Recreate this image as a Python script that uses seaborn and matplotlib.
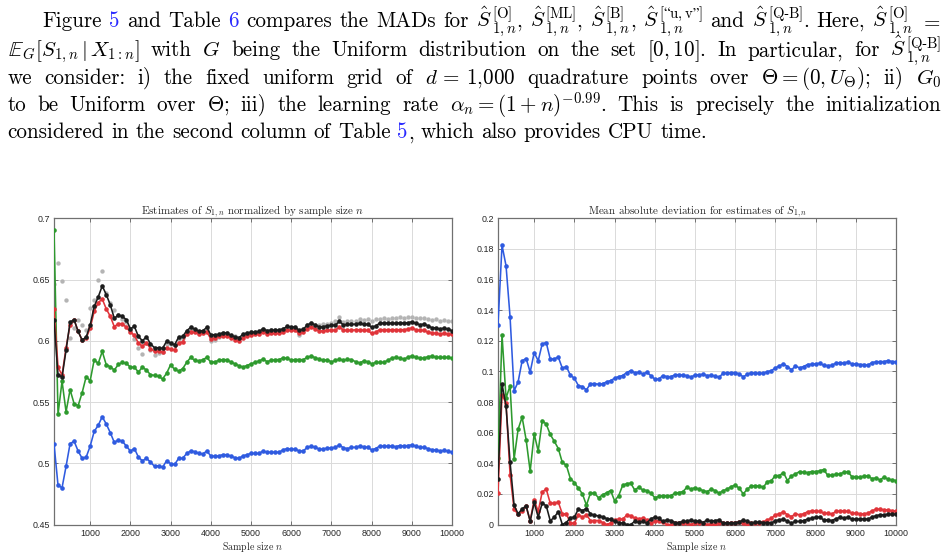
import matplotlib
matplotlib.use("Agg")
import matplotlib.pyplot as plt
import seaborn as sns
import numpy as np

# sample sizes on the x axis
sample_size = list(range(100, 10001, 100))

# left panel: estimates of S_{1,n} normalized by n
left_grey = [0.646, 0.6638, 0.649, 0.633, 0.6025, 0.6108, 0.6166, 0.6125, 0.6085, 0.6268,
             0.633, 0.6495, 0.6568, 0.6394, 0.631, 0.6255, 0.621, 0.618, 0.6155, 0.6085,
             0.6016, 0.594, 0.5894, 0.598, 0.5927, 0.5883, 0.590, 0.5905, 0.597, 0.597,
             0.5965, 0.6015, 0.6025, 0.607, 0.610, 0.6085, 0.607, 0.607, 0.6095, 0.600,
             0.6005, 0.603, 0.606, 0.606, 0.604, 0.6035, 0.6025, 0.605, 0.6065, 0.607,
             0.607, 0.607, 0.6095, 0.608, 0.6085, 0.6085, 0.6085, 0.6095, 0.611, 0.6105,
             0.6105, 0.605, 0.609, 0.6125, 0.6145, 0.613, 0.6125, 0.6135, 0.614, 0.6145,
             0.616, 0.6193, 0.6155, 0.616, 0.6165, 0.616, 0.6175, 0.617, 0.6175, 0.6165,
             0.6175, 0.618, 0.6185, 0.618, 0.6185, 0.619, 0.6195, 0.619, 0.6195, 0.6198,
             0.619, 0.6185, 0.6185, 0.618, 0.617, 0.6175, 0.6165, 0.617, 0.616, 0.6158]
left_blue = [0.516, 0.482, 0.480, 0.4975, 0.516, 0.518, 0.510, 0.504, 0.505, 0.514,
             0.526, 0.531, 0.538, 0.532, 0.525, 0.517, 0.519, 0.518, 0.514, 0.510,
             0.512, 0.505, 0.502, 0.504, 0.501, 0.4975, 0.498, 0.4967, 0.502, 0.4997,
             0.499, 0.504, 0.504, 0.508, 0.510, 0.5095, 0.508, 0.5075, 0.510, 0.506,
             0.5057, 0.506, 0.507, 0.507, 0.5057, 0.5046, 0.504, 0.506, 0.507, 0.508,
             0.508, 0.508, 0.510, 0.509, 0.509, 0.509, 0.509, 0.511, 0.512, 0.5115,
             0.5115, 0.510, 0.510, 0.513, 0.514, 0.513, 0.5115, 0.5115, 0.5125, 0.5125,
             0.513, 0.515, 0.5125, 0.512, 0.513, 0.513, 0.514, 0.5135, 0.513, 0.511,
             0.512, 0.514, 0.514, 0.514, 0.514, 0.5135, 0.5145, 0.514, 0.5145, 0.515,
             0.514, 0.513, 0.513, 0.512, 0.511, 0.511, 0.510, 0.5105, 0.510, 0.509]
left_green = [0.6905, 0.540, 0.567, 0.542, 0.560, 0.5487, 0.547, 0.5576, 0.5707, 0.5674,
              0.5845, 0.5815, 0.5913, 0.5804, 0.5788, 0.576, 0.5807, 0.5823, 0.5815, 0.5785,
              0.5783, 0.5745, 0.5785, 0.576, 0.5723, 0.5717, 0.571, 0.5688, 0.5734, 0.5804,
              0.5766, 0.5753, 0.5772, 0.5823, 0.5864, 0.584, 0.5836, 0.5845, 0.5864, 0.5826,
              0.5828, 0.584, 0.5847, 0.5845, 0.5826, 0.5812, 0.5796, 0.5785, 0.5798, 0.5812,
              0.5823, 0.5836, 0.585, 0.583, 0.584, 0.5845, 0.5847, 0.5861, 0.5856, 0.5842,
              0.5847, 0.5847, 0.5845, 0.5866, 0.5875, 0.5861, 0.585, 0.584, 0.5845, 0.5828,
              0.584, 0.585, 0.584, 0.585, 0.5845, 0.583, 0.582, 0.5834, 0.583, 0.5812,
              0.5823, 0.5823, 0.5823, 0.584, 0.5858, 0.5866, 0.5858, 0.585, 0.5864, 0.5877,
              0.5866, 0.5858, 0.5858, 0.587, 0.5875, 0.5866, 0.5864, 0.5864, 0.5864, 0.586]
left_red = [0.6262, 0.5785, 0.572, 0.5943, 0.613, 0.617, 0.608, 0.6005, 0.602, 0.6104,
            0.624, 0.6311, 0.6341, 0.626, 0.620, 0.6115, 0.614, 0.614, 0.611, 0.607,
            0.6045, 0.598, 0.5955, 0.5985, 0.5935, 0.5915, 0.5915, 0.5905, 0.5945, 0.593,
            0.5925, 0.5985, 0.599, 0.6055, 0.6075, 0.607, 0.6055, 0.6065, 0.6075, 0.6015,
            0.6025, 0.6035, 0.604, 0.6035, 0.6025, 0.601, 0.5995, 0.6025, 0.604, 0.605,
            0.6055, 0.6055, 0.607, 0.6055, 0.606, 0.606, 0.606, 0.607, 0.6085, 0.6085,
            0.6085, 0.606, 0.607, 0.610, 0.6115, 0.6095, 0.608, 0.608, 0.6085, 0.6085,
            0.6085, 0.6115, 0.6085, 0.6085, 0.6085, 0.609, 0.609, 0.6085, 0.6085, 0.606,
            0.607, 0.609, 0.609, 0.609, 0.609, 0.609, 0.609, 0.609, 0.6095, 0.6105,
            0.609, 0.6085, 0.6085, 0.607, 0.6065, 0.606, 0.6055, 0.606, 0.6055, 0.6055]
left_black = [0.6172, 0.5722, 0.5703, 0.5924, 0.6153, 0.6172, 0.6076, 0.6005, 0.603, 0.6128,
              0.628, 0.6358, 0.6448, 0.6377, 0.6294, 0.6183, 0.621, 0.6199, 0.6172, 0.6098,
              0.6117, 0.6035, 0.600, 0.6033, 0.5975, 0.5943, 0.5943, 0.5937, 0.5997, 0.5981,
              0.5967, 0.603, 0.6035, 0.6082, 0.6109, 0.6095, 0.6079, 0.6082, 0.6109, 0.6049,
              0.6049, 0.6052, 0.6065, 0.6063, 0.6044, 0.6033, 0.6025, 0.6052, 0.6063, 0.6068,
              0.6071, 0.6076, 0.6098, 0.6082, 0.6087, 0.6085, 0.6087, 0.6098, 0.6117, 0.6112,
              0.6112, 0.6085, 0.6095, 0.6128, 0.6144, 0.6128, 0.6112, 0.6114, 0.6123, 0.6125,
              0.6128, 0.6158, 0.6128, 0.6134, 0.6134, 0.6136, 0.6142, 0.6134, 0.6134, 0.6112,
              0.612, 0.6144, 0.6144, 0.6144, 0.6144, 0.6142, 0.6147, 0.6144, 0.6147, 0.6155,
              0.6142, 0.6131, 0.6136, 0.6123, 0.6106, 0.6106, 0.6095, 0.6104, 0.6095, 0.6082]

# right panel: mean absolute deviation
right_blue = [0.1306, 0.1824, 0.169, 0.1356, 0.0873, 0.0931, 0.1069, 0.1084, 0.0995, 0.1123,
              0.1069, 0.118, 0.1188, 0.108, 0.1082, 0.1093, 0.1021, 0.1032, 0.0975, 0.0955,
              0.0907, 0.0901, 0.0879, 0.092, 0.092, 0.0916, 0.092, 0.0931, 0.094, 0.0955,
              0.0966, 0.0973, 0.0992, 0.1005, 0.0992, 0.0994, 0.0984, 0.0994, 0.0973, 0.0949,
              0.0949, 0.0973, 0.0966, 0.0966, 0.0977, 0.0979, 0.0975, 0.0973, 0.0962, 0.0977,
              0.0977, 0.0981, 0.0973, 0.0975, 0.097, 0.0962, 0.0988, 0.099, 0.0992, 0.0992,
              0.0984, 0.0964, 0.0981, 0.0992, 0.0988, 0.0988, 0.0988, 0.0999, 0.1005, 0.1023,
              0.1036, 0.1049, 0.1032, 0.101, 0.1036, 0.1023, 0.1032, 0.1045, 0.1047, 0.1049,
              0.1053, 0.104, 0.1038, 0.104, 0.1053, 0.1058, 0.1053, 0.1062, 0.1049, 0.1049,
              0.1045, 0.1045, 0.104, 0.1058, 0.1062, 0.1064, 0.1064, 0.1071, 0.1064, 0.1064]
right_green = [0.0437, 0.1238, 0.0825, 0.0907, 0.0427, 0.0622, 0.0701, 0.0553, 0.0348, 0.0592,
               0.0479, 0.0679, 0.0655, 0.0588, 0.0544, 0.0496, 0.0405, 0.0387, 0.030, 0.0274,
               0.0237, 0.020, 0.0126, 0.0205, 0.0205, 0.0174, 0.0194, 0.0207, 0.0222, 0.0155,
               0.0187, 0.0255, 0.0267, 0.027, 0.0226, 0.0243, 0.0226, 0.0222, 0.0204, 0.0176,
               0.0183, 0.0189, 0.0187, 0.0189, 0.0204, 0.0209, 0.0215, 0.0243, 0.023, 0.0241,
               0.023, 0.0222, 0.0215, 0.023, 0.0222, 0.0204, 0.0222, 0.023, 0.0248, 0.0257,
               0.0237, 0.020, 0.023, 0.0252, 0.0252, 0.0252, 0.0243, 0.028, 0.0287, 0.032,
               0.032, 0.0339, 0.0287, 0.0317, 0.033, 0.0346, 0.0341, 0.0339, 0.0346, 0.0346,
               0.035, 0.0359, 0.0322, 0.0322, 0.0328, 0.033, 0.0341, 0.0346, 0.0313, 0.0313,
               0.0307, 0.0317, 0.0317, 0.030, 0.0304, 0.0291, 0.0309, 0.0296, 0.0291, 0.0287]
right_red = [0.0205, 0.0847, 0.0792, 0.0326, 0.010, 0.0067, 0.0091, 0.0118, 0.0026, 0.0161,
             0.0085, 0.0213, 0.0231, 0.0139, 0.0139, 0.0146, 0.007, 0.007, 0.0009, 0.0009,
             0.0063, 0.0048, 0.0063, 0.0026, 0.0026, 0.0026, 0.0013, 0.0, 0.0009, 0.003,
             0.0035, 0.0035, 0.006, 0.0058, 0.0041, 0.0037, 0.0041, 0.003, 0.0009, 0.002,
             0.0026, 0.0017, 0.0, 0.0, 0.0009, 0.0013, 0.0013, 0.0009, 0.0, 0.0013,
             0.0013, 0.0009, 0.0, 0.0004, 0.0, 0.0009, 0.0013, 0.0009, 0.0013, 0.0013,
             0.0017, 0.0009, 0.0, 0.0009, 0.0009, 0.0013, 0.0017, 0.003, 0.0041, 0.0063,
             0.007, 0.0083, 0.0063, 0.0052, 0.007, 0.0063, 0.007, 0.0083, 0.0089, 0.0089,
             0.0085, 0.0074, 0.0074, 0.0067, 0.0085, 0.0089, 0.0089, 0.0085, 0.0074, 0.0074,
             0.007, 0.007, 0.0074, 0.0089, 0.010, 0.010, 0.0096, 0.0096, 0.0089, 0.0089]
right_black = [0.0298, 0.0918, 0.0775, 0.0407, 0.0126, 0.007, 0.0102, 0.0122, 0.002, 0.0144,
               0.0048, 0.0139, 0.0122, 0.0024, 0.0048, 0.0083, 0.0, 0.0013, 0.0044, 0.0048,
               0.0102, 0.0091, 0.0104, 0.007, 0.0059, 0.0057, 0.005, 0.0039, 0.0035, 0.002,
               0.0013, 0.0009, 0.0, 0.0, 0.002, 0.0015, 0.002, 0.0009, 0.0037, 0.0048,
               0.0041, 0.002, 0.003, 0.0026, 0.0013, 0.0013, 0.002, 0.002, 0.003, 0.002,
               0.0024, 0.0013, 0.003, 0.002, 0.0026, 0.003, 0.0009, 0.0013, 0.0009, 0.0013,
               0.0015, 0.003, 0.002, 0.0009, 0.0015, 0.0015, 0.0013, 0.0013, 0.0009, 0.0026,
               0.003, 0.0035, 0.002, 0.0009, 0.002, 0.002, 0.0026, 0.0035, 0.0041, 0.0048,
               0.0048, 0.003, 0.003, 0.0026, 0.0037, 0.0046, 0.0041, 0.0048, 0.0035, 0.0035,
               0.0035, 0.0037, 0.0035, 0.0048, 0.0057, 0.0063, 0.0063, 0.0067, 0.0067, 0.0067]

x_ticks = [1000, 2000, 3000, 4000, 5000, 6000, 7000, 8000, 9000, 10000]
left_yticks = [0.45, 0.5, 0.55, 0.6, 0.65, 0.7]
left_ylabels = ["0.45", "0.5", "0.55", "0.6", "0.65", "0.7"]
right_yticks = [0, 0.02, 0.04, 0.06, 0.08, 0.1, 0.12, 0.14, 0.16, 0.18, 0.2]
right_ylabels = ["0", "0.02", "0.04", "0.06", "0.08", "0.1", "0.12", "0.14", "0.16", "0.18", "0.2"]

BLUE = "#2f5be0"
GREEN = "#2e9a2e"
RED = "#e0343a"
BLACK = "#1c1c1c"
GREY = "#b4b4b4"
LINK = "#2a2aff"

sns.set_style("whitegrid")
plt.rcParams["font.family"] = ["cmr10", "DejaVu Serif"]
plt.rcParams["mathtext.fontset"] = "cm"
plt.rcParams["axes.formatter.use_mathtext"] = True

W, H = 949, 558
fig = plt.figure(figsize=(W / 100, H / 100), dpi=100)
renderer = fig.canvas.get_renderer()

# ---- paragraph above the figure (justified lines) ----
body_size = 15.2
em_px = body_size * 100 / 72


def w(txt, col="k", scale=1.0, dy=0.0, stack=False):
    # dy in em (positive = up); stack=True: next piece starts at the same x
    return dict(t=txt, c=col, s=scale, dy=dy, stack=stack)


def S(tag, tail=""):
    # hat-S with a superscript tag and a 1,n subscript, placed by hand
    out = [w(r"$\hat{S}$"),
           w("$\\mathrm{[" + tag + "]}$", scale=0.7, dy=0.40, stack=True),
           w(r"$1,n$", scale=0.7, dy=-0.27)]
    if tail:
        out.append(w(tail))
    return out


lines = [
    [[w("Figure")], [w("5", LINK)], [w("and")], [w("Table")], [w("6", LINK)],
     [w("compares")], [w("the")], [w("MADs")], [w("for")],
     S("O", ","), S("ML", ","), S("B", ","), S("\u201cu,v\u201d"), [w("and")],
     S("Q\u2010B", "."), [w("Here,")], S("O"), [w(r"$=$")]],
    [[w(r"$\mathbb{E}_G[S_{1,n}\,|\,X_{1:n}]$")], [w("with")], [w(r"$G$")],
     [w("being")], [w("the")], [w("Uniform")], [w("distribution")],
     [w("on")], [w("the")], [w("set")], [w(r"$[0,10]$.")], [w("In")],
     [w("particular,")], [w("for")], S("Q\u2010B")],
    [[w("we")], [w("consider:")], [w("i)")], [w("the")], [w("fixed")],
     [w("uniform")], [w("grid")], [w("of")], [w(r"$d$ = 1,000")],
     [w("quadrature")], [w("points")], [w("over")],
     [w(r"$\Theta=(0,U_{\Theta})$;")], [w("ii)")], [w(r"$G_0$")]],
    [[w("to")], [w("be")], [w("Uniform")], [w("over")], [w(r"$\Theta$;")],
     [w("iii)")], [w("the")], [w("learning")], [w("rate")],
     [w(r"$\alpha_n=(1+n)^{-0.99}$.")], [w("This")], [w("is")],
     [w("precisely")], [w("the")], [w("initialization")]],
    [[w("considered")], [w("in")], [w("the")], [w("second")],
     [w("column")], [w("of")], [w("Table")], [w("5", LINK), w(",")],
     [w("which")], [w("also")], [w("provides")], [w("CPU")], [w("time.")]],
]
line_start = [42, 7.5, 7.5, 7.5, 7.5]
line_base = [27, 56.5, 84, 111, 138.5]
justified = [True, True, True, True, False]
right_edge = 941
space_px = em_px * 0.333

for words, x0, yb, just in zip(lines, line_start, line_base, justified):
    placed = []
    widths = []
    for word in words:
        segs = []
        pos = 0
        pending = None
        for p in word:
            y = 1 - (yb - p["dy"] * em_px) / H
            t = fig.text(0, y, p["t"], fontsize=body_size * p["s"], color=p["c"],
                         va="baseline", ha="left")
            tw = t.get_window_extent(renderer).width
            segs.append((t, pos))
            if p["stack"]:
                pending = tw
            else:
                if pending is not None:
                    tw = max(tw, pending)
                    pending = None
                pos += tw
        placed.append(segs)
        widths.append(pos)
    if just:
        gap = (right_edge - x0 - sum(widths)) / (len(words) - 1)
    else:
        gap = space_px
    x = x0
    for segs, wd in zip(placed, widths):
        for t, off in segs:
            t.set_x((x + off) / W)
        x += wd + gap

# ---- the two panels ----
ax_l = fig.add_axes([54 / W, 1 - 524.5 / H, 398 / W, 306.2 / H])
ax_r = fig.add_axes([498 / W, 1 - 524.5 / H, 398 / W, 306.2 / H])

line_kw = dict(marker="o", markersize=3.3, markeredgewidth=0, linewidth=1.15)

sns.scatterplot(x=sample_size, y=left_grey, color=GREY, s=10, linewidth=0, ax=ax_l, zorder=2)
sns.lineplot(x=sample_size, y=left_blue, color=BLUE, ax=ax_l, zorder=3, **line_kw)
sns.lineplot(x=sample_size, y=left_green, color=GREEN, ax=ax_l, zorder=3, **line_kw)
sns.lineplot(x=sample_size, y=left_red, color=RED, ax=ax_l, zorder=3, **line_kw)
sns.lineplot(x=sample_size, y=left_black, color=BLACK, ax=ax_l, zorder=4, **line_kw)

sns.lineplot(x=sample_size, y=right_blue, color=BLUE, ax=ax_r, zorder=3, **line_kw)
sns.lineplot(x=sample_size, y=right_green, color=GREEN, ax=ax_r, zorder=3, **line_kw)
sns.lineplot(x=sample_size, y=right_red, color=RED, ax=ax_r, zorder=3, **line_kw)
sns.lineplot(x=sample_size, y=right_black, color=BLACK, ax=ax_r, zorder=4, **line_kw)

panels = [
    (ax_l, (0.45, 0.7), left_yticks, left_ylabels,
     r"Estimates of $S_{1,n}$ normalized by sample size $n$"),
    (ax_r, (0, 0.2), right_yticks, right_ylabels,
     r"Mean absolute deviation for estimates of $S_{1,n}$"),
]
for ax, ylim, yt, yl, title in panels:
    ax.set_facecolor("white")
    ax.set_xlim(100, 10000)
    ax.set_ylim(*ylim)
    ax.set_xticks(x_ticks)
    ax.set_xticklabels([str(v) for v in x_ticks], family="Liberation Sans")
    ax.set_yticks(yt)
    ax.set_yticklabels(yl, family="Liberation Sans")
    ax.tick_params(direction="in", length=3, width=0.7, colors="#707070",
                   labelcolor="#262626", labelsize=6.4, pad=3,
                   top=True, right=True, bottom=True, left=True)
    ax.grid(True, color="#dadada", linewidth=0.7)
    for sp in ax.spines.values():
        sp.set_color("#707070")
        sp.set_linewidth(0.9)
    ax.set_title(title, fontsize=7.9, color="#262626", pad=3)
    ax.set_xlabel(r"Sample size $n$", fontsize=7.2, color="#262626", labelpad=2)
    ax.set_ylabel("")

fig.savefig("out.png", dpi=100)
